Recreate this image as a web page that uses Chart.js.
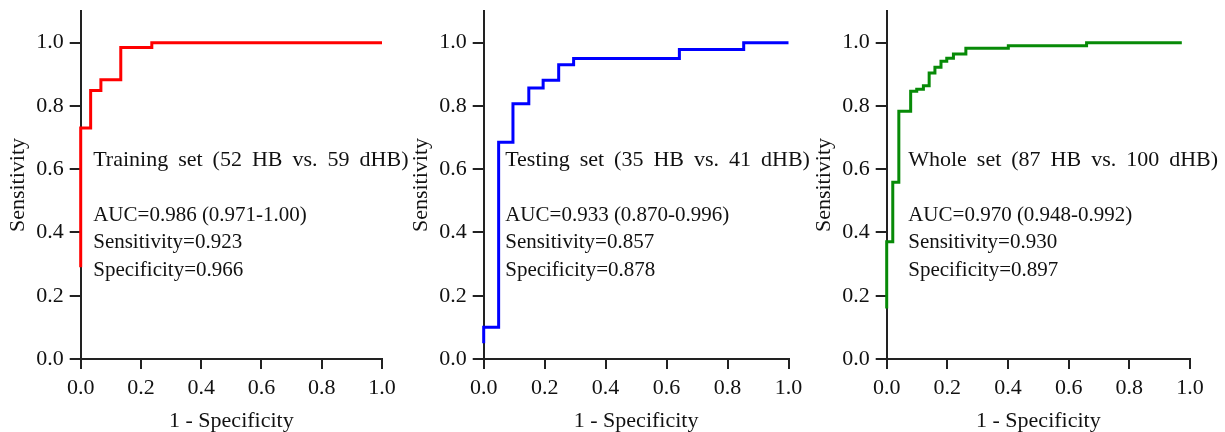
<!DOCTYPE html>
<html>
<head>
<meta charset="utf-8">
<script src="https://cdn.jsdelivr.net/npm/chart.js@4.4.1/dist/chart.umd.min.js"></script>
<style>
  body { margin: 0; background: #fff; }
  #wrap { position: relative; width: 1225px; height: 432px; }
  canvas { position: absolute; top: 0; }
</style>
</head>
<body>
<div id="wrap">
  <canvas id="rocTrain" width="408" height="432" style="left:0px"></canvas>
  <canvas id="rocTest" width="408" height="432" style="left:403px"></canvas>
  <canvas id="rocWhole" width="419" height="432" style="left:806px"></canvas>
</div>
<script>
// tick values
const X_TICKS = [0, 0.2, 0.4, 0.6, 0.8, 1.0];
const Y_TICKS = [0, 0.2, 0.4, 0.6, 0.8, 1.0];

// training set ROC corners (1 - specificity, sensitivity)
const trainFpr = [0, 0, 0.033, 0.067, 0.133, 0.236, 1.0];
const trainTpr = [0.29, 0.730, 0.849, 0.883, 0.985, 1.0, 1.0];

// testing set
const testFpr = [0, 0, 0.049, 0.096, 0.148, 0.195, 0.246, 0.295, 0.642, 0.853, 1.0];
const testTpr = [0.05, 0.10, 0.685, 0.807, 0.857, 0.881, 0.930, 0.950, 0.978, 1.0, 1.0];

// whole set
const wholeFpr = [0, 0, 0.020, 0.040, 0.079, 0.099, 0.121, 0.140, 0.159, 0.179, 0.198, 0.220, 0.261, 0.401, 0.659, 0.973];
const wholeTpr = [0.16, 0.371, 0.559, 0.783, 0.846, 0.853, 0.864, 0.904, 0.922, 0.941, 0.951, 0.964, 0.982, 0.990, 1.0, 1.0];

const trainText = ["Training set (52 HB vs. 59 dHB)", "", "AUC=0.986 (0.971-1.00)", "Sensitivity=0.923", "Specificity=0.966"];
const testText = ["Testing set (35 HB vs. 41 dHB)", "", "AUC=0.933 (0.870-0.996)", "Sensitivity=0.857", "Specificity=0.878"];
const wholeText = ["Whole set (87 HB vs. 100 dHB)", "", "AUC=0.970 (0.948-0.992)", "Sensitivity=0.930", "Specificity=0.897"];

const FAMILY = "'Liberation Serif', 'Times New Roman', serif";
const FONT = { family: FAMILY, size: 22 };
const INK = "#111";
const AXIS = "#222";

function makePanel(id, fpr, tpr, color, textLines, textDx, padRight) {
  const canvas = document.getElementById(id);

  // set name + stats written inside the plot
  const textPlugin = {
    id: "rocText",
    afterDatasetsDraw(chart) {
      const { ctx, chartArea } = chart;
      ctx.save();
      ctx.fillStyle = INK;
      ctx.textBaseline = "middle";
      ctx.textAlign = "left";
      textLines.forEach((t, i) => {
        if (i === 0) {
          ctx.font = `22px ${FAMILY}`;
          ctx.wordSpacing = "4.5px";
        } else {
          ctx.font = `21px ${FAMILY}`;
          ctx.wordSpacing = "0px";
        }
        ctx.fillText(t, chartArea.left + textDx, chartArea.top + 149 + i * 27.5);
      });
      ctx.restore();
    }
  };

  return new Chart(canvas.getContext("2d"), {
    type: "scatter",
    data: {
      datasets: [{
        data: fpr.map((x, i) => ({ x: x, y: tpr[i] })),
        showLine: true,
        stepped: "before",
        borderColor: color,
        borderWidth: 3,
        pointRadius: 0,
        fill: false,
        clip: false
      }]
    },
    options: {
      responsive: false,
      animation: false,
      devicePixelRatio: 1,
      layout: { padding: { left: 0, top: 11, right: padRight, bottom: 0 } },
      plugins: { legend: { display: false }, tooltip: { enabled: false } },
      scales: {
        x: {
          type: "linear",
          min: 0,
          max: 1,
          afterBuildTicks: (s) => { s.ticks = X_TICKS.map((v) => ({ value: v })); },
          afterFit: (s) => { s.height = 73; s.paddingLeft = 0; s.paddingRight = 0; },
          ticks: {
            callback: (v) => Number(v).toFixed(1),
            font: FONT, color: INK, padding: 6, maxRotation: 0, autoSkip: false
          },
          grid: { drawOnChartArea: false, tickLength: 10, color: AXIS, lineWidth: 2 },
          border: { color: AXIS, width: 2 },
          title: { display: true, text: "1 - Specificity", font: FONT, color: INK, padding: { top: 0, bottom: -2 } }
        },
        y: {
          type: "linear",
          min: 0,
          max: 1.1,
          afterBuildTicks: (s) => { s.ticks = Y_TICKS.map((v) => ({ value: v })); },
          afterFit: (s) => { s.width = 80.7; s.paddingTop = 0; s.paddingBottom = 0; },
          ticks: {
            callback: (v) => Number(v).toFixed(1),
            font: FONT, color: INK, padding: 6
          },
          grid: { drawOnChartArea: false, tickLength: 11, color: AXIS, lineWidth: 2 },
          border: { color: AXIS, width: 2 },
          title: { display: true, text: "Sensitivity", font: FONT, color: INK, padding: { top: 5, bottom: 0 } }
        }
      }
    },
    plugins: [textPlugin]
  });
}

makePanel("rocTrain", trainFpr, trainTpr, "#ff0000", trainText, 12.5, 26);
makePanel("rocTest", testFpr, testTpr, "#0000ff", testText, 21.5, 22.5);
makePanel("rocWhole", wholeFpr, wholeTpr, "#078a07", wholeText, 21.5, 35);
</script>
</body>
</html>
